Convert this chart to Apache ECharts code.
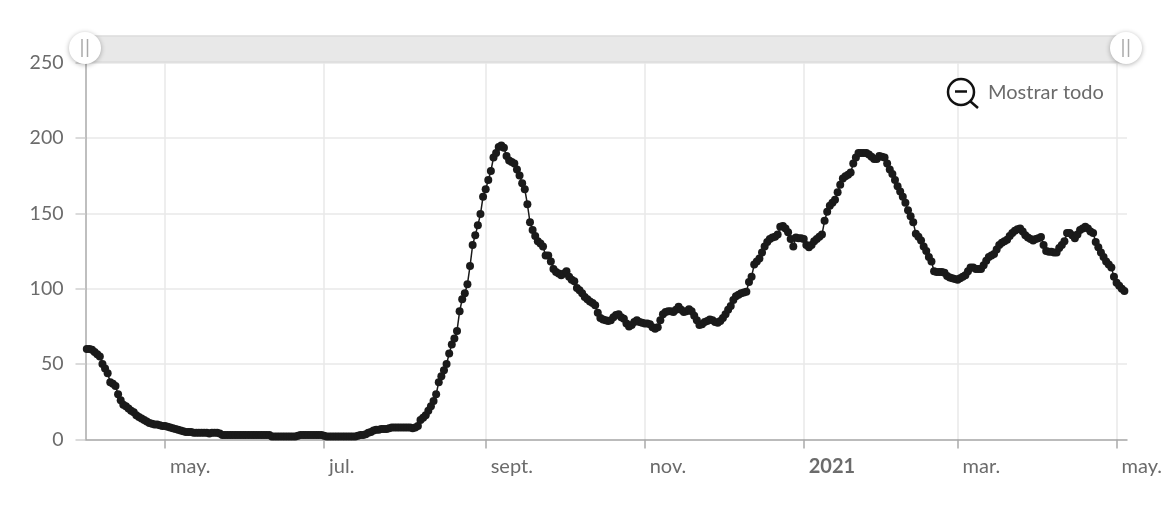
<!DOCTYPE html>
<html><head><meta charset="utf-8">
<style>html,body{margin:0;padding:0;background:#fff}#c{width:1174px;height:506px}</style>
<script src="https://cdn.jsdelivr.net/npm/echarts@6/dist/echarts.min.js"></script>
</head><body><div id="c"></div>
<script>
const startDate = '2020-04-01';
const tickDates = ['2020-05-01','2020-07-01','2020-09-01','2020-11-01','2021-01-01','2021-03-01','2021-05-01'];
const tickLabels = ['may.','jul.','sept.','nov.','2021','mar.','may.'];
const yTicks = [0,50,100,150,200,250];
const zoomLabel = 'Mostrar todo';
const dailyValues = [
60,60,59.5,58,56.5,55,50,47,44,38,
37,35.5,30,26,23,22,20.5,19,18,16,
15,14,13,12,11,10.5,10,10,9.5,9,
9,8.5,8,7.5,7,6.5,6,5.5,5,5,
5,4.5,4.5,4.5,4.5,4.5,4.5,4,4.5,4.5,
4.5,4,3,3,3,3,3,3,3,3,
3,3,3,3,3,3,3,3,3,3,
3,2,2,2,2,2,2,2,2,2,
2,2.5,3,3,3,3,3,3,3,3,
3,2.5,2,2,2,2,2,2,2,2,
2,2,2,2,2.5,3,3,3.5,4.5,5,
6,6.5,6.5,7,7,7,7.5,8,8,8,
8,8,8,8,8,7.5,8,9,13,14.5,
16,19,22,25.5,30,38,42,46,50,57,
63,67,72,85,93,97,103,115,129,135.5,
142,149.5,161,166,172,178,187,190,194,195,
193.5,188,185,184,183,179,175,170,166,156,
144,139,135,131.5,130,128,122,122,118,113,
111,110,109,110,111.5,108,106,105,100.5,99,
97,94.5,93,91.5,90.5,89,84,80.5,79.5,79,
78.5,79,81,82.5,83,81,80,77,75,76,
78,79,78,77.5,77,77,76.5,74.5,73.5,74.5,
79,83,84.5,85,85,84.5,86,88,86,84.5,
85,86.4,85,82,79,76,76.5,78,78.5,79.5,
79,78,77.5,78.5,80.5,83,86,88.5,92.5,95,
96,97,97.5,98,104.5,108,116,118,120,124,
128,131,133,134,134.5,136,141,141.5,140,137.5,
133,128,134,133.5,133.5,133,129,127.5,129,131.5,
133,134.5,136,145,151,155,157,159,164,169,
173,174.5,175.5,177,183,187,190,190,190,190,
189,187.5,186,186,188,187.5,187,183,179,176,
172,168,164.5,161,157,152,148,144,136.5,134.5,
132,128,125,121,118,111.5,111,111,111,110.5,
108.5,107.5,107,106.5,106,107,108,109,111.5,114,
114,113,113,113,115.5,118.5,121,122,123,126,
129,130.5,131.5,132.5,135,137,138.5,139.5,140,138,
135.5,134,133,132,133,133.5,134.3,129,125,124.5,
124.5,124,124,127,129,131.5,137,137,135.5,133.5,
136,139,140,141,140,138,137,131,127.5,124,
121,118,116,114,108,104,102,100,98.5
];
const DAY = 86400000;
const t0 = Date.parse(startDate + 'T00:00:00Z');
const seriesData = dailyValues.map((v, i) => [t0 + i * DAY, v]);
const tickTimes = tickDates.map(d => Date.parse(d + 'T00:00:00Z'));
const labelFor = v => tickLabels[tickTimes.indexOf(v)] || '';
const FONT = 'Lato';
const chart = echarts.init(document.getElementById('c'), null, {renderer:'canvas'});
chart.setOption({
  animation:false,
  grid:{left:85.5,right:47,top:62.5,bottom:66.5,containLabel:false},
  xAxis:{
    type:'value',
    scale:true,
    min:t0 - 0.5*DAY, max:Date.parse('2021-05-05T00:00:00Z'),
    axisLine:{lineStyle:{color:'#aaaaaa',width:1.5}},
    axisTick:{show:true,length:9,lineStyle:{color:'#aaaaaa',width:1.5},customValues:tickTimes},
    splitLine:{show:true,lineStyle:{color:'#e8e8e8',width:1.5}},
    axisLabel:{
      customValues:tickTimes,
      hideOverlap:false,
      showMinLabel:true,showMaxLabel:true,
      margin:17,
      align:'left',
      color:'#6b6b6b',
      fontFamily:FONT,
      fontSize:20,
      padding:[0,0,0,5],
      formatter:v => labelFor(v)==='2021' ? '{b|2021}' : labelFor(v),
      rich:{b:{fontWeight:'bold',color:'#6b6b6b',fontFamily:FONT,fontSize:20}}
    }
  },
  yAxis:{
    type:'value',min:yTicks[0],max:yTicks[yTicks.length-1],interval:50,
    axisLine:{show:true,lineStyle:{color:'#aaaaaa',width:1.5}},
    axisTick:{show:true,length:10,lineStyle:{color:'#d0d0d0',width:1.5}},
    splitLine:{show:true,lineStyle:{color:'#e8e8e8',width:1.5}},
    axisLabel:{margin:22,color:'#6b6b6b',fontFamily:FONT,fontSize:19.5,padding:[2,0,0,0]}
  },
  series:[{
    type:'line',data:seriesData,showAllSymbol:true,
    symbol:'circle',symbolSize:8,
    lineStyle:{color:'#1a1a1a',width:1.5},
    itemStyle:{color:'#1a1a1a'},
    z:5
  }],
  graphic:[
    {type:'rect',z:10,shape:{x:85,y:36,width:1042,height:26},style:{fill:'#e8e8e8',stroke:'#dcdcdc',lineWidth:1.5}},
    {type:'circle',z:11,shape:{cx:85,cy:48,r:16},style:{fill:'#fff',shadowBlur:5,shadowColor:'rgba(0,0,0,0.3)',shadowOffsetY:1}},
    {type:'circle',z:11,shape:{cx:1126,cy:48,r:16},style:{fill:'#fff',shadowBlur:5,shadowColor:'rgba(0,0,0,0.3)',shadowOffsetY:1}},
    {type:'line',z:12,shape:{x1:82,y1:39,x2:82,y2:57},style:{stroke:'#aaa',lineWidth:1.5}},
    {type:'line',z:12,shape:{x1:87.5,y1:39,x2:87.5,y2:57},style:{stroke:'#aaa',lineWidth:1.5}},
    {type:'line',z:12,shape:{x1:1123,y1:39,x2:1123,y2:57},style:{stroke:'#aaa',lineWidth:1.5}},
    {type:'line',z:12,shape:{x1:1128.5,y1:39,x2:1128.5,y2:57},style:{stroke:'#aaa',lineWidth:1.5}},
    {type:'circle',z:12,shape:{cx:961,cy:92,r:13},style:{fill:'#fff',stroke:'#111',lineWidth:2.5}},
    {type:'line',z:12,shape:{x1:955,y1:91.5,x2:967,y2:91.5},style:{stroke:'#111',lineWidth:2.5}},
    {type:'line',z:12,shape:{x1:970.5,y1:101.5,x2:978,y2:108},style:{stroke:'#111',lineWidth:2.5}},
    {type:'text',z:12,style:{x:988,y:93,text:zoomLabel,fill:'#6b6b6b',font:'20px '+FONT,verticalAlign:'middle'}}
  ]
});
</script></body></html>
